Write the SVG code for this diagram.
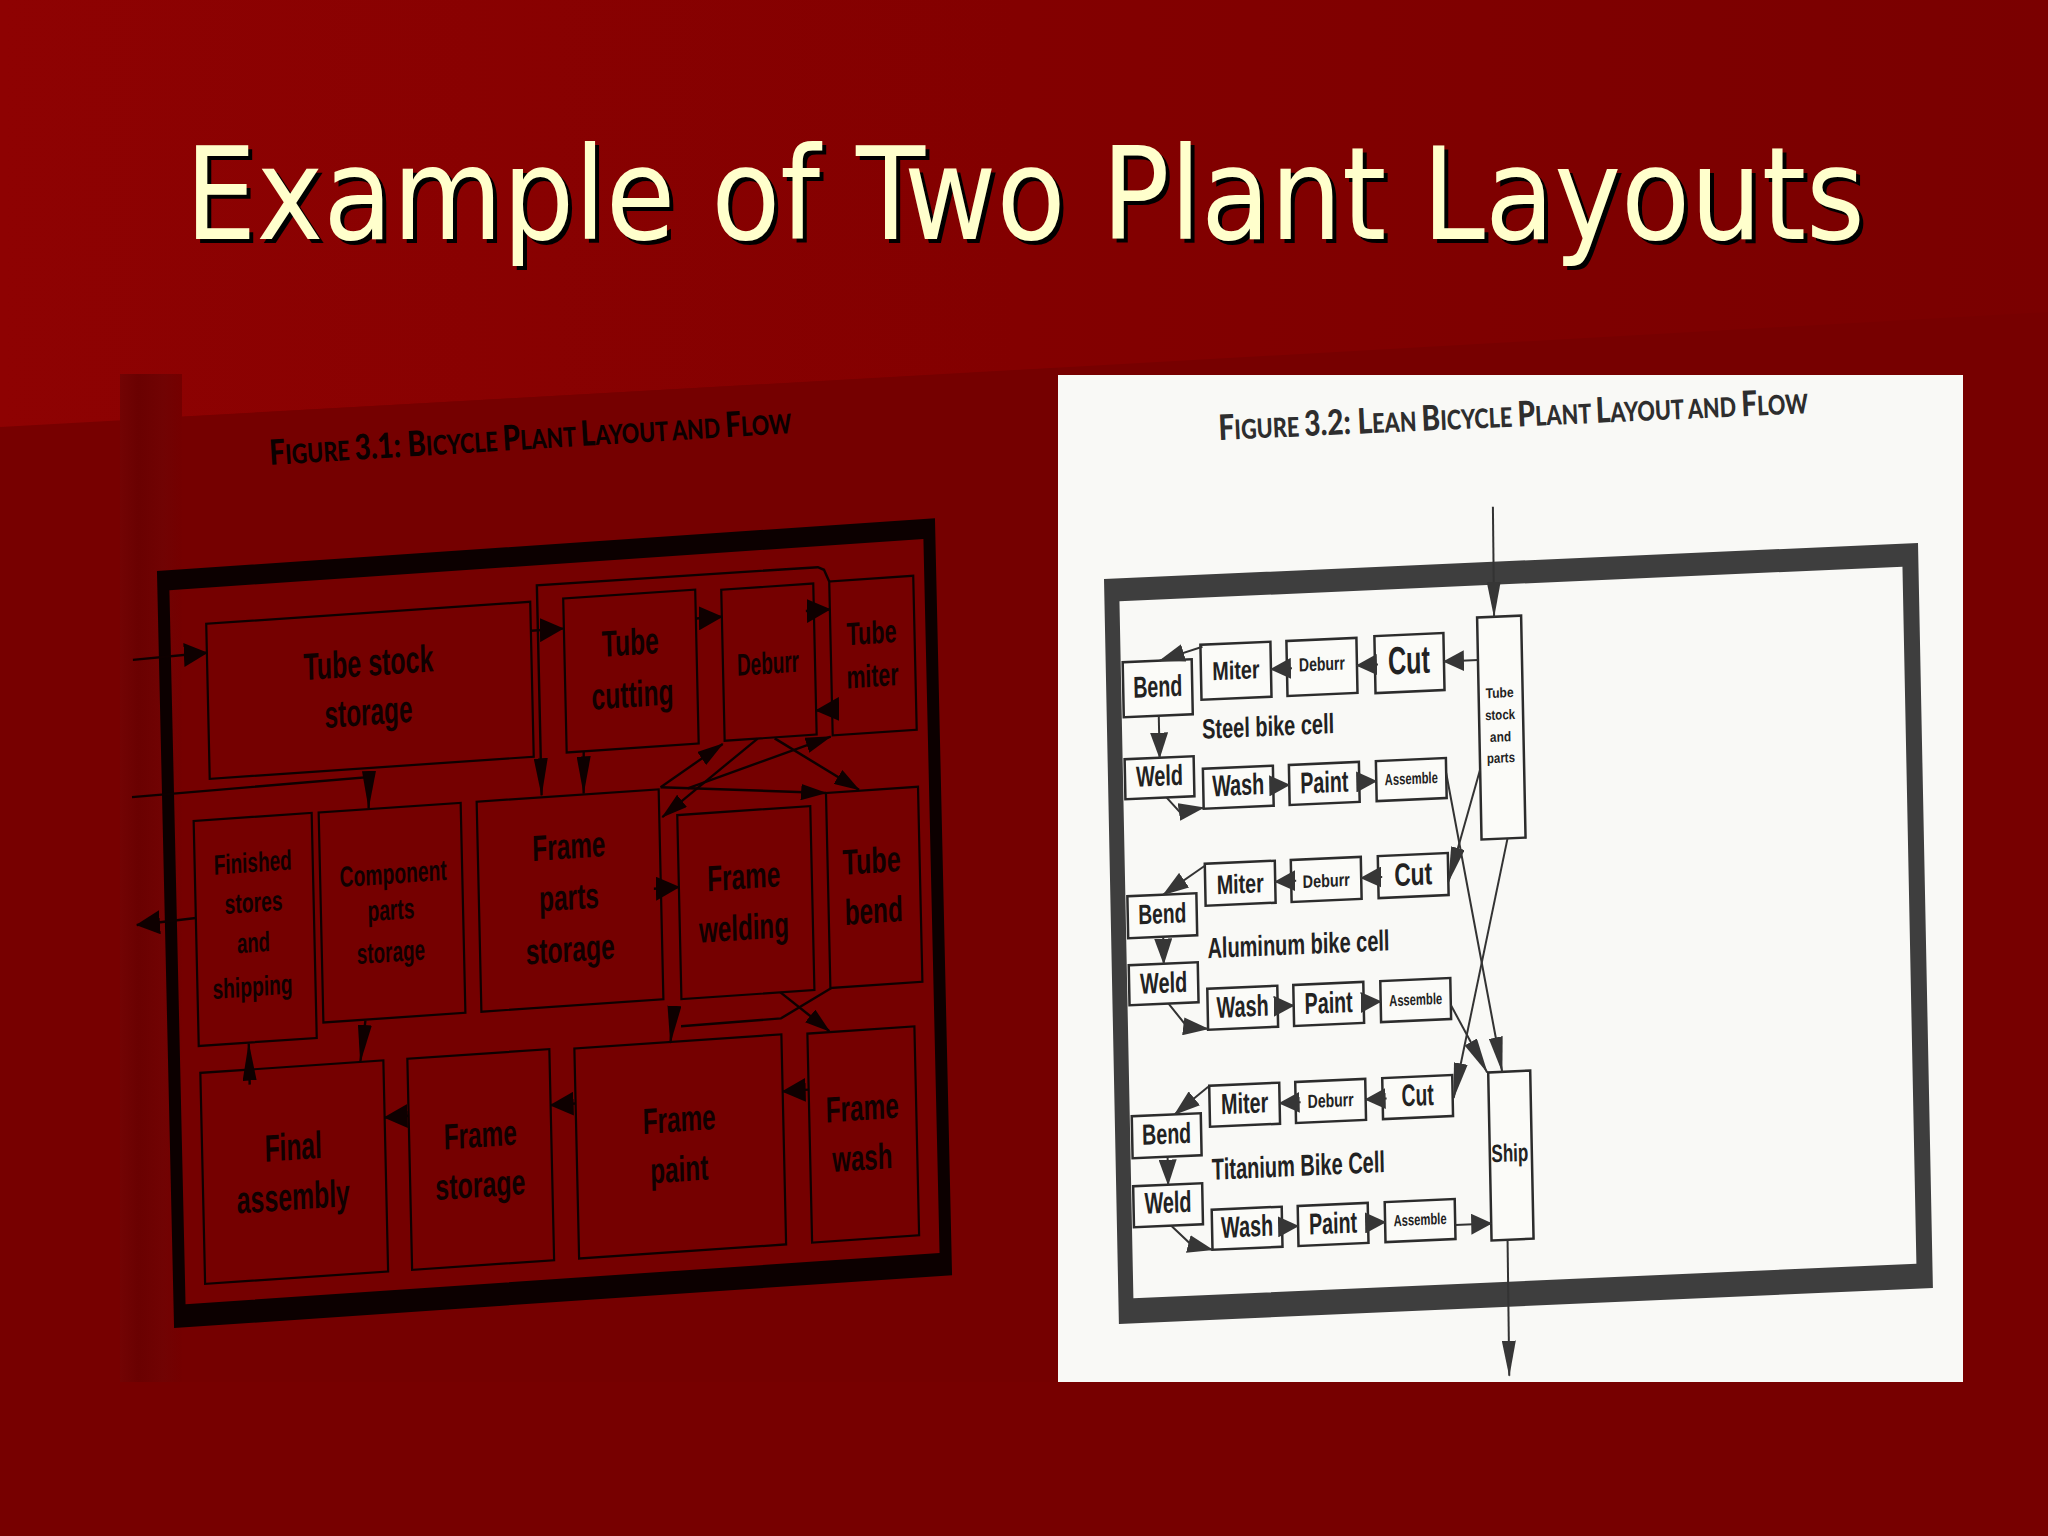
<svg xmlns="http://www.w3.org/2000/svg" width="2048" height="1536" viewBox="0 0 2048 1536">
<defs>
<linearGradient id="gTop" x1="0" y1="0" x2="1" y2="0">
<stop offset="0" stop-color="#8e0202"/>
<stop offset="0.5" stop-color="#830000"/>
<stop offset="1" stop-color="#7a0000"/>
</linearGradient>
<linearGradient id="gEdge" x1="0" y1="0" x2="1" y2="0">
<stop offset="0" stop-color="#720404"/>
<stop offset="0.3" stop-color="#6a0101"/>
<stop offset="0.7" stop-color="#710303"/>
<stop offset="1" stop-color="#740000"/>
</linearGradient>
<marker id="la" viewBox="0 0 24 24" refX="23" refY="12" markerWidth="24" markerHeight="24" markerUnits="userSpaceOnUse" orient="auto"><path d="M0,0 L24,12 L0,24 Z" fill="#0e0000"/></marker>
<marker id="lm" viewBox="0 0 26 16" refX="25" refY="8" markerWidth="26" markerHeight="16" markerUnits="userSpaceOnUse" orient="auto"><path d="M0,0 L26,8 L0,16 Z" fill="#0e0000"/></marker>
<marker id="lav" viewBox="0 0 38 14" refX="37" refY="7" markerWidth="38" markerHeight="14" markerUnits="userSpaceOnUse" orient="auto"><path d="M0,0 L38,7 L0,14 Z" fill="#0e0000"/></marker>
<marker id="ra" viewBox="0 0 21 21" refX="20" refY="10.5" markerWidth="21" markerHeight="21" markerUnits="userSpaceOnUse" orient="auto"><path d="M0,0 L21,10.5 L0,21 Z" fill="#363636"/></marker>
<marker id="rs" viewBox="0 0 26 18" refX="25" refY="9" markerWidth="26" markerHeight="18" markerUnits="userSpaceOnUse" orient="auto"><path d="M0,0 L26,9 L0,18 Z" fill="#363636"/></marker>
<marker id="rd" viewBox="0 0 36 14" refX="35" refY="7" markerWidth="36" markerHeight="14" markerUnits="userSpaceOnUse" orient="auto"><path d="M0,0 L36,7 L0,14 Z" fill="#363636"/></marker>
<style>
.lframe{fill:#0c0000}
.lbox{fill:none;stroke:#0e0000;stroke-width:2.2}
.ltx{font-family:"Liberation Sans Narrow","Liberation Sans",Arial,sans-serif;font-weight:700;fill:#100000;text-anchor:middle}
.lcon{fill:none;stroke:#0e0000;stroke-width:2.4}
.rframe{fill:#3e3e3e}
.rbox{fill:#fbfbf8;stroke:#2c2c2c;stroke-width:2.5}
.rtx{font-family:"Liberation Sans Narrow","Liberation Sans",Arial,sans-serif;font-weight:700;fill:#222222;text-anchor:middle}
.rlab{font-family:"Liberation Sans Narrow","Liberation Sans",Arial,sans-serif;font-weight:700;fill:#222222}
.rcon{fill:none;stroke:#333;stroke-width:2}
.cap{font-family:Lato,"Open Sans","Liberation Sans",sans-serif;font-weight:900}
.big{font-size:35px}
.title{font-family:"DejaVu Sans Condensed","DejaVu Sans",Verdana,sans-serif;font-size:128px;text-anchor:middle}
</style>
</defs>

<!-- slide background -->
<rect x="0" y="0" width="2048" height="1536" fill="#770000"/>
<polygon points="0,0 2048,0 2048,312 0,427" fill="url(#gTop)"/>
<polygon points="120,420 1058,368 1058,1382 120,1382" fill="#750000"/>
<rect x="120" y="374" width="62" height="1008" fill="url(#gEdge)"/>

<!-- title -->
<text class="title" x="1029" y="243" fill="#000000" textLength="1680" lengthAdjust="spacingAndGlyphs">Example of Two Plant Layouts</text>
<text class="title" x="1025" y="239" fill="#ffffcc" textLength="1680" lengthAdjust="spacingAndGlyphs">Example of Two Plant Layouts</text>

<!-- left figure caption -->
<text class="cap" x="270" y="465" font-size="27" fill="#0a0000" textLength="523" lengthAdjust="spacingAndGlyphs" transform="rotate(-3.5 270 465)"><tspan class="big">F</tspan>IGURE <tspan class="big">3.1: B</tspan>ICYCLE <tspan class="big">P</tspan>LANT <tspan class="big">L</tspan>AYOUT AND <tspan class="big">F</tspan>LOW</text>

<!-- left figure: Bicycle plant layout -->
<g id="fig31" transform="matrix(1,-0.068,0.0226,1,158,573)">
<path class="lframe" fill-rule="evenodd" d="M-1,-2H777V755H-1Z M11,18V732H765V18Z"/>

<g id="l-tube-stock-storage"><rect class="lbox" x="47" y="54" width="324" height="155"/>
<text class="ltx" x="208" y="117" font-size="38" textLength="130" lengthAdjust="spacingAndGlyphs">Tube stock</text>
<text class="ltx" x="207" y="166" font-size="38" textLength="88" lengthAdjust="spacingAndGlyphs">storage</text></g>

<g id="l-tube-cutting"><rect class="lbox" x="404" y="53" width="132" height="154"/>
<text class="ltx" x="470" y="114" font-size="37" textLength="57" lengthAdjust="spacingAndGlyphs">Tube</text>
<text class="ltx" x="471" y="166" font-size="37" textLength="82" lengthAdjust="spacingAndGlyphs">cutting</text></g>

<g id="l-deburr"><rect class="lbox" x="562" y="55" width="92" height="151"/>
<text class="ltx" x="607" y="142" font-size="31" textLength="62" lengthAdjust="spacingAndGlyphs">Deburr</text></g>

<g id="l-tube-miter"><rect class="lbox" x="670" y="54" width="84" height="154"/>
<text class="ltx" x="711" y="119" font-size="32" textLength="50" lengthAdjust="spacingAndGlyphs">Tube</text>
<text class="ltx" x="711" y="162" font-size="32" textLength="52" lengthAdjust="spacingAndGlyphs">miter</text></g>

<g id="l-finished-stores"><rect class="lbox" x="30" y="250" width="118" height="225"/>
<text class="ltx" x="88" y="305" font-size="28" textLength="78" lengthAdjust="spacingAndGlyphs">Finished</text>
<text class="ltx" x="88" y="345" font-size="28" textLength="58" lengthAdjust="spacingAndGlyphs">stores</text>
<text class="ltx" x="87" y="385" font-size="28" textLength="33" lengthAdjust="spacingAndGlyphs">and</text>
<text class="ltx" x="85" y="429" font-size="28" textLength="80" lengthAdjust="spacingAndGlyphs">shipping</text></g>

<g id="l-component-parts"><rect class="lbox" x="155" y="250" width="142" height="210"/>
<text class="ltx" x="228" y="326" font-size="29" textLength="107" lengthAdjust="spacingAndGlyphs">Component</text>
<text class="ltx" x="225" y="362" font-size="29" textLength="47" lengthAdjust="spacingAndGlyphs">parts</text>
<text class="ltx" x="224" y="404" font-size="29" textLength="68" lengthAdjust="spacingAndGlyphs">storage</text></g>

<g id="l-frame-parts-storage"><rect class="lbox" x="313" y="250" width="182" height="210"/>
<text class="ltx" x="404" y="313" font-size="36" textLength="73" lengthAdjust="spacingAndGlyphs">Frame</text>
<text class="ltx" x="403" y="364" font-size="36" textLength="60" lengthAdjust="spacingAndGlyphs">parts</text>
<text class="ltx" x="403" y="416" font-size="36" textLength="89" lengthAdjust="spacingAndGlyphs">storage</text></g>

<g id="l-frame-welding"><rect class="lbox" x="513" y="277" width="133" height="184"/>
<text class="ltx" x="578" y="355" font-size="36" textLength="73" lengthAdjust="spacingAndGlyphs">Frame</text>
<text class="ltx" x="577" y="406" font-size="36" textLength="90" lengthAdjust="spacingAndGlyphs">welding</text></g>

<g id="l-tube-bend"><rect class="lbox" x="662" y="265" width="92" height="195"/>
<text class="ltx" x="706" y="348" font-size="36" textLength="58" lengthAdjust="spacingAndGlyphs">Tube</text>
<text class="ltx" x="707" y="398" font-size="36" textLength="58" lengthAdjust="spacingAndGlyphs">bend</text></g>

<g id="l-final-assembly"><rect class="lbox" x="31" y="502" width="183" height="211"/>
<text class="ltx" x="122" y="595" font-size="38" textLength="57" lengthAdjust="spacingAndGlyphs">Final</text>
<text class="ltx" x="121" y="645" font-size="38" textLength="113" lengthAdjust="spacingAndGlyphs">assembly</text></g>

<g id="l-frame-storage"><rect class="lbox" x="238" y="502" width="142" height="211"/>
<text class="ltx" x="309" y="595" font-size="36" textLength="73" lengthAdjust="spacingAndGlyphs">Frame</text>
<text class="ltx" x="308" y="645" font-size="36" textLength="90" lengthAdjust="spacingAndGlyphs">storage</text></g>

<g id="l-frame-paint"><rect class="lbox" x="405" y="503" width="207" height="210"/>
<text class="ltx" x="508" y="593" font-size="36" textLength="73" lengthAdjust="spacingAndGlyphs">Frame</text>
<text class="ltx" x="507" y="643" font-size="36" textLength="58" lengthAdjust="spacingAndGlyphs">paint</text></g>

<g id="l-frame-wash"><rect class="lbox" x="638" y="504" width="107" height="209"/>
<text class="ltx" x="691" y="594" font-size="36" textLength="73" lengthAdjust="spacingAndGlyphs">Frame</text>
<text class="ltx" x="690" y="644" font-size="36" textLength="60" lengthAdjust="spacingAndGlyphs">wash</text></g>

<g id="l-connectors">
<path class="lcon" d="M-27,85 L47,83" marker-end="url(#la)"/>
<path class="lcon" d="M371,83 L403,83" marker-end="url(#la)"/>
<path class="lcon" d="M536,82 L562,82" marker-end="url(#la)"/>
<path class="lcon" d="M646,82 L670,82" marker-end="url(#la)"/>
<path class="lcon" d="M676,182 L654,182" marker-end="url(#la)"/>
<path class="lcon" d="M670,54 L665,42 L659,39 L378,38 L378,248" marker-end="url(#lav)"/>
<path class="lcon" d="M421,207 L420,249" marker-end="url(#lav)"/>
<path class="lcon" d="M-31,222 L206,218 L205,249" marker-end="url(#lav)"/>
<path class="lcon" d="M30,347 L-29,350" marker-end="url(#la)"/>
<path class="lcon" d="M80,517 L80,476" marker-end="url(#lav)"/>
<path class="lcon" d="M197,461 L191,502" marker-end="url(#lav)"/>
<path class="lcon" d="M238,559 L214,559" marker-end="url(#la)"/>
<path class="lcon" d="M405,558 L380,558" marker-end="url(#la)"/>
<path class="lcon" d="M638,560 L612,560" marker-end="url(#la)"/>
<path class="lcon" d="M488,349 L513,349" marker-end="url(#la)"/>
<path class="lcon" d="M612,461 L660,503" marker-end="url(#lm)"/>
<path class="lcon" d="M663,460 L612,487 L512,488"/>
<path class="lcon" d="M505,474 L501,504" marker-end="url(#lav)"/>
<path class="lcon" d="M497,248 L560,209" marker-end="url(#lm)"/>
<path class="lcon" d="M595,206 L498,278" marker-end="url(#lm)"/>
<path class="lcon" d="M524,251 L668,209" marker-end="url(#lm)"/>
<path class="lcon" d="M612,207 L695,264" marker-end="url(#lm)"/>
<path class="lcon" d="M497,248 L662,265" marker-end="url(#lm)"/>
</g>
</g>

<!-- right figure page -->
<rect x="1058" y="375" width="905" height="1007" fill="#f9f9f6"/>
<text class="cap" x="1219" y="440" font-size="27" fill="#2e2e2e" textLength="590" lengthAdjust="spacingAndGlyphs" transform="rotate(-2.6 1219 440)"><tspan class="big">F</tspan>IGURE <tspan class="big">3.2: L</tspan>EAN <tspan class="big">B</tspan>ICYCLE <tspan class="big">P</tspan>LANT <tspan class="big">L</tspan>AYOUT AND <tspan class="big">F</tspan>LOW</text>

<g id="fig32" transform="matrix(1,-0.0443,0.02,1,1104,579)">
<path class="rframe" fill-rule="evenodd" d="M0,0H814V745H0Z M15,23V720H798V23Z"/>

<g id="r-tube-stock"><rect class="rbox" x="372" y="55" width="44" height="222"/>
<text class="rtx" x="393" y="136" font-size="14" textLength="28" lengthAdjust="spacingAndGlyphs">Tube</text>
<text class="rtx" x="393" y="158" font-size="14" textLength="30" lengthAdjust="spacingAndGlyphs">stock</text>
<text class="rtx" x="393" y="180" font-size="14" textLength="21" lengthAdjust="spacingAndGlyphs">and</text>
<text class="rtx" x="393" y="201" font-size="14" textLength="28" lengthAdjust="spacingAndGlyphs">parts</text></g>

<g id="r-ship"><rect class="rbox" x="374" y="510" width="42" height="168"/>
<text class="rtx" x="394" y="600" font-size="25" textLength="37" lengthAdjust="spacingAndGlyphs">Ship</text></g>

<!-- steel cell -->
<g id="s-cut"><rect class="rbox" x="269" y="69" width="69" height="57"/><text class="rtx" x="303" y="108" font-size="39" textLength="42" lengthAdjust="spacingAndGlyphs">Cut</text></g>
<g id="s-deburr"><rect class="rbox" x="181" y="70" width="70" height="55"/><text class="rtx" x="216" y="101" font-size="19" textLength="46" lengthAdjust="spacingAndGlyphs">Deburr</text></g>
<g id="s-miter"><rect class="rbox" x="95" y="70" width="70" height="55"/><text class="rtx" x="130" y="106" font-size="26" textLength="47" lengthAdjust="spacingAndGlyphs">Miter</text></g>
<g id="s-bend"><rect class="rbox" x="17" y="84" width="69" height="55"/><text class="rtx" x="51.5" y="120" font-size="30" textLength="49" lengthAdjust="spacingAndGlyphs">Bend</text></g>
<text id="s-label" class="rlab" x="95" y="164" font-size="28" textLength="132" lengthAdjust="spacingAndGlyphs">Steel bike cell</text>
<g id="s-weld"><rect class="rbox" x="17" y="181" width="69" height="40"/><text class="rtx" x="51.5" y="209" font-size="29" textLength="47" lengthAdjust="spacingAndGlyphs">Weld</text></g>
<g id="s-wash"><rect class="rbox" x="95" y="194" width="70" height="40"/><text class="rtx" x="130" y="222" font-size="30" textLength="52" lengthAdjust="spacingAndGlyphs">Wash</text></g>
<g id="s-paint"><rect class="rbox" x="181" y="194" width="70" height="40"/><text class="rtx" x="216" y="223" font-size="30" textLength="48" lengthAdjust="spacingAndGlyphs">Paint</text></g>
<g id="s-assemble"><rect class="rbox" x="268" y="194" width="70" height="40"/><text class="rtx" x="303" y="218.5" font-size="16" textLength="53" lengthAdjust="spacingAndGlyphs">Assemble</text></g>

<!-- aluminum cell -->
<g id="a-cut"><rect class="rbox" x="268" y="289" width="70" height="42"/><text class="rtx" x="303" y="319.5" font-size="32" textLength="38" lengthAdjust="spacingAndGlyphs">Cut</text></g>
<g id="a-deburr"><rect class="rbox" x="181" y="289" width="70" height="42"/><text class="rtx" x="216" y="317.5" font-size="18" textLength="47" lengthAdjust="spacingAndGlyphs">Deburr</text></g>
<g id="a-miter"><rect class="rbox" x="95" y="289" width="70" height="42"/><text class="rtx" x="130" y="320" font-size="27" textLength="47" lengthAdjust="spacingAndGlyphs">Miter</text></g>
<g id="a-bend"><rect class="rbox" x="17" y="318" width="69" height="42"/><text class="rtx" x="51.5" y="346.5" font-size="28" textLength="48" lengthAdjust="spacingAndGlyphs">Bend</text></g>
<text id="a-label" class="rlab" x="96" y="383.5" font-size="29" textLength="182" lengthAdjust="spacingAndGlyphs">Aluminum bike cell</text>
<g id="a-weld"><rect class="rbox" x="17" y="387" width="69" height="40"/><text class="rtx" x="51.5" y="416" font-size="29" textLength="47" lengthAdjust="spacingAndGlyphs">Weld</text></g>
<g id="a-wash"><rect class="rbox" x="95" y="414" width="70" height="41"/><text class="rtx" x="130" y="443.5" font-size="30" textLength="52" lengthAdjust="spacingAndGlyphs">Wash</text></g>
<g id="a-paint"><rect class="rbox" x="181" y="414" width="70" height="41"/><text class="rtx" x="216" y="443.5" font-size="30" textLength="48" lengthAdjust="spacingAndGlyphs">Paint</text></g>
<g id="a-assemble"><rect class="rbox" x="268" y="414" width="70" height="41"/><text class="rtx" x="303" y="439.5" font-size="16" textLength="53" lengthAdjust="spacingAndGlyphs">Assemble</text></g>

<!-- titanium cell -->
<g id="t-cut"><rect class="rbox" x="268" y="511" width="70" height="41"/><text class="rtx" x="303" y="540" font-size="31" textLength="32" lengthAdjust="spacingAndGlyphs">Cut</text></g>
<g id="t-deburr"><rect class="rbox" x="181" y="511" width="70" height="41"/><text class="rtx" x="216" y="537.5" font-size="19" textLength="46" lengthAdjust="spacingAndGlyphs">Deburr</text></g>
<g id="t-miter"><rect class="rbox" x="95" y="511" width="70" height="41"/><text class="rtx" x="130" y="540" font-size="29" textLength="47" lengthAdjust="spacingAndGlyphs">Miter</text></g>
<g id="t-bend"><rect class="rbox" x="17" y="538" width="69" height="42"/><text class="rtx" x="51.5" y="567" font-size="29" textLength="49" lengthAdjust="spacingAndGlyphs">Bend</text></g>
<text id="t-label" class="rlab" x="96" y="605" font-size="30" textLength="173" lengthAdjust="spacingAndGlyphs">Titanium Bike Cell</text>
<g id="t-weld"><rect class="rbox" x="17" y="608" width="69" height="41"/><text class="rtx" x="51.5" y="636" font-size="30" textLength="47" lengthAdjust="spacingAndGlyphs">Weld</text></g>
<g id="t-wash"><rect class="rbox" x="95" y="635" width="70" height="40"/><text class="rtx" x="130" y="663.5" font-size="30" textLength="52" lengthAdjust="spacingAndGlyphs">Wash</text></g>
<g id="t-paint"><rect class="rbox" x="181" y="635" width="70" height="40"/><text class="rtx" x="216" y="664" font-size="30" textLength="48" lengthAdjust="spacingAndGlyphs">Paint</text></g>
<g id="t-assemble"><rect class="rbox" x="268" y="635" width="70" height="40"/><text class="rtx" x="303" y="659.5" font-size="16" textLength="53" lengthAdjust="spacingAndGlyphs">Assemble</text></g>

<g id="r-connectors">
<path class="rcon" d="M390,-55 L389,55" marker-end="url(#rd)"/>
<path class="rcon" d="M372,97.5 L338,97.5" marker-end="url(#ra)"/>
<path class="rcon" d="M272,97.5 L251,97.5" marker-end="url(#ra)"/>
<path class="rcon" d="M186,97.5 L165,97.5" marker-end="url(#ra)"/>
<path class="rcon" d="M97,72 L54,84" marker-end="url(#rs)"/>
<path class="rcon" d="M52,139 L52,181" marker-end="url(#rs)"/>
<path class="rcon" d="M58,221 L71,236 L95,233" marker-end="url(#rs)"/>
<path class="rcon" d="M163,214 L181,214" marker-end="url(#ra)"/>
<path class="rcon" d="M249,214 L268,214" marker-end="url(#ra)"/>
<path class="rcon" d="M338,209 L388,510" marker-end="url(#rd)"/>
<path class="rcon" d="M372,207 L338,318" marker-end="url(#rd)"/>
<path class="rcon" d="M398,277 L339,534" marker-end="url(#rd)"/>

<path class="rcon" d="M272,310 L251,310" marker-end="url(#ra)"/>
<path class="rcon" d="M186,310 L165,310" marker-end="url(#ra)"/>
<path class="rcon" d="M95,291 L53,318" marker-end="url(#rs)"/>
<path class="rcon" d="M52,360 L52,387" marker-end="url(#rs)"/>
<path class="rcon" d="M56,427 L74,451 L95,454" marker-end="url(#rs)"/>
<path class="rcon" d="M163,434.5 L181,434.5" marker-end="url(#ra)"/>
<path class="rcon" d="M249,434.5 L268,434.5" marker-end="url(#ra)"/>
<path class="rcon" d="M338,441 L373,510" marker-end="url(#rd)"/>

<path class="rcon" d="M272,531.5 L251,531.5" marker-end="url(#ra)"/>
<path class="rcon" d="M186,531.5 L165,531.5" marker-end="url(#ra)"/>
<path class="rcon" d="M94,512 L60,538" marker-end="url(#rs)"/>
<path class="rcon" d="M52,580 L52,608" marker-end="url(#rs)"/>
<path class="rcon" d="M54,649 L74,669 L95,675" marker-end="url(#rs)"/>
<path class="rcon" d="M163,655 L181,655" marker-end="url(#ra)"/>
<path class="rcon" d="M249,655 L268,655" marker-end="url(#ra)"/>
<path class="rcon" d="M338,661 L374,661" marker-end="url(#ra)"/>
<path class="rcon" d="M390,678 L389,814" marker-end="url(#rd)"/>
</g>
</g>
</svg>
